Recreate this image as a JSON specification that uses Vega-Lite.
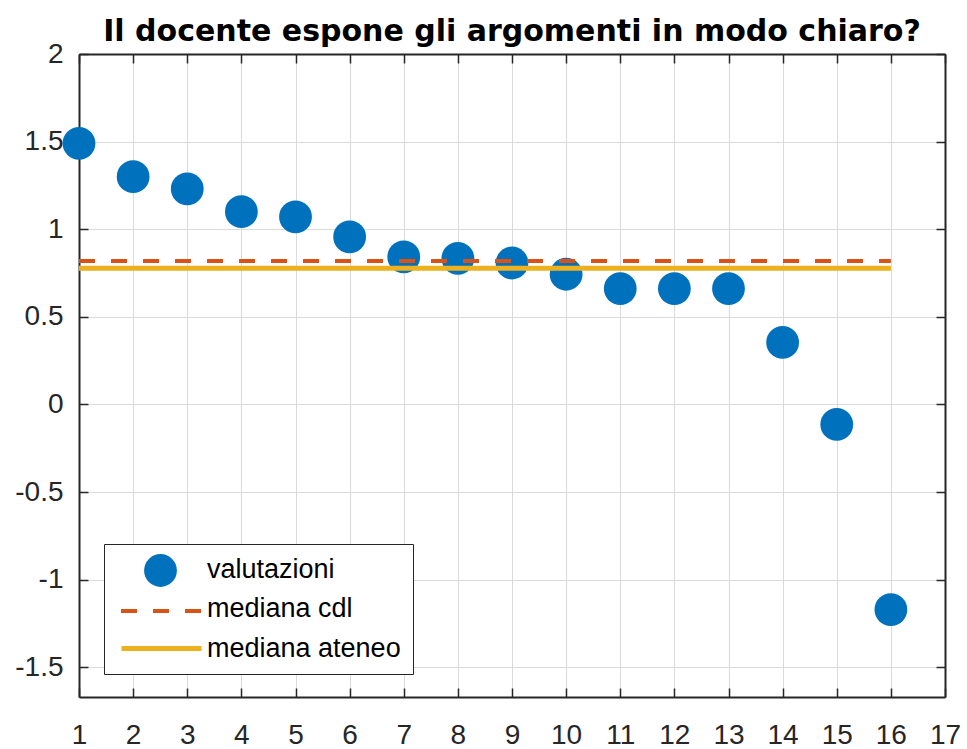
{
  "$schema": "https://vega.github.io/schema/vega-lite/v6.json",
  "width": 866,
  "height": 643,
  "autosize": {"type": "none"},
  "padding": {"left": 79, "top": 54, "right": 22, "bottom": 52},
  "background": "white",
  "title": {"text": "Il docente espone gli argomenti in modo chiaro?", "font": "DejaVu Sans", "fontSize": 30, "fontWeight": "bold", "color": "#000000", "offset": -7, "anchor": "middle"},
  "config": {
    "view": {"stroke": null},
    "axis": {
      "labelFont": "Liberation Sans",
      "labelFontSize": 28,
      "labelColor": "#262626",
      "domainColor": "#262626",
      "domainWidth": 2,
      "tickColor": "#262626",
      "tickWidth": 1.5,
      "tickSize": -9,
      "gridColor": "#dadada",
      "gridWidth": 1,
      "title": null
    },
    "legend": {
      "labelFont": "Liberation Sans",
      "labelFontSize": 27,
      "labelColor": "#000000",
      "labelLimit": 400,
      "title": null,
      "orient": "none"
    }
  },
  "data": {"values": [
    {"x": 1, "y": 1.49, "serie": "valutazioni"},
    {"x": 2, "y": 1.3, "serie": "valutazioni"},
    {"x": 3, "y": 1.23, "serie": "valutazioni"},
    {"x": 4, "y": 1.1, "serie": "valutazioni"},
    {"x": 5, "y": 1.07, "serie": "valutazioni"},
    {"x": 6, "y": 0.956, "serie": "valutazioni"},
    {"x": 7, "y": 0.842, "serie": "valutazioni"},
    {"x": 8, "y": 0.834, "serie": "valutazioni"},
    {"x": 9, "y": 0.807, "serie": "valutazioni"},
    {"x": 10, "y": 0.743, "serie": "valutazioni"},
    {"x": 11, "y": 0.661, "serie": "valutazioni"},
    {"x": 12, "y": 0.661, "serie": "valutazioni"},
    {"x": 13, "y": 0.661, "serie": "valutazioni"},
    {"x": 14, "y": 0.354, "serie": "valutazioni"},
    {"x": 15, "y": -0.114, "serie": "valutazioni"},
    {"x": 16, "y": -1.171, "serie": "valutazioni"},
    {"x": 1, "y": 0.819, "serie": "mediana cdl"},
    {"x": 16, "y": 0.819, "serie": "mediana cdl"},
    {"x": 1, "y": 0.777, "serie": "mediana ateneo"},
    {"x": 16, "y": 0.777, "serie": "mediana ateneo"}
  ]},
  "resolve": {"axis": {"x": "independent", "y": "independent"}},
  "layer": [
    {
      "transform": [{"filter": "datum.serie === 'valutazioni'"}],
      "mark": {"type": "point", "filled": true, "size": 1075, "opacity": 1},
      "encoding": {
        "x": {"field": "x", "type": "quantitative", "scale": {"domain": [1, 17], "nice": false, "zero": false},
              "axis": {"orient": "bottom", "values": [1,2,3,4,5,6,7,8,9,10,11,12,13,14,15,16,17], "grid": true, "labelPadding": 33, "labelFlush": false, "labelOverlap": false}},
        "y": {"field": "y", "type": "quantitative", "scale": {"domain": [-1.67, 2], "nice": false, "zero": false},
              "axis": {"orient": "left", "values": [-1.5, -1, -0.5, 0, 0.5, 1, 1.5, 2], "grid": true, "labelPadding": 25, "labelFlush": false, "labelOverlap": false,
                       "labelExpr": "datum.value < 0 ? '-' + format(-datum.value, '~g') : format(datum.value, '~g')"}},
        "color": {"field": "serie", "type": "nominal",
          "scale": {"domain": ["valutazioni", "mediana cdl", "mediana ateneo"], "range": ["#0072BD", "#D95319", "#EDB120"]},
          "legend": {
            "legendX": 25,
            "legendY": 490,
            "padding": 12,
            "strokeColor": "#262626",
            "fillColor": "white",
            "symbolType": "stroke",
            "symbolSize": 100,
            "symbolOpacity": 0,
            "symbolStrokeWidth": 0,
            "labelOffset": 64,
            "rowPadding": 11.5,
            "zindex": 0
          }},
        "shape": {"field": "serie", "type": "nominal",
          "scale": {"domain": ["valutazioni"], "range": ["circle"]},
          "legend": {
            "legendX": 65,
            "legendY": 500,
            "padding": 0,
            "symbolType": "circle",
            "symbolSize": 1075,
            "symbolFillColor": "#0072BD",
            "symbolStrokeWidth": 0,
            "symbolOpacity": 1,
            "labelExpr": "''",
            "zindex": 1
          }}
      }
    },
    {
      "transform": [{"filter": "datum.serie === 'mediana cdl'"}],
      "mark": {"type": "line", "strokeWidth": 4, "color": "#D95319"},
      "encoding": {
        "x": {"field": "x", "type": "quantitative", "axis": {"orient": "top", "values": [1,2,3,4,5,6,7,8,9,10,11,12,13,14,15,16,17], "labels": false, "grid": false}},
        "y": {"field": "y", "type": "quantitative", "axis": {"orient": "right", "values": [-1.5, -1, -0.5, 0, 0.5, 1, 1.5, 2], "labels": false, "grid": false}},
        "strokeDash": {"field": "serie", "type": "nominal",
          "scale": {"domain": ["mediana cdl"], "range": [[16, 16]]},
          "legend": {
            "legendX": 40,
            "legendY": 515,
            "padding": 0,
            "symbolType": "stroke",
            "symbolSize": 6400,
            "symbolStrokeColor": "#D95319",
            "symbolStrokeWidth": 4,
            "symbolDash": [16, 13],
            "labelExpr": "''",
            "zindex": 1
          }}
      }
    },
    {
      "transform": [{"filter": "datum.serie === 'mediana ateneo'"}],
      "mark": {"type": "line", "strokeWidth": 5, "color": "#EDB120"},
      "encoding": {
        "x": {"field": "x", "type": "quantitative", "axis": null},
        "y": {"field": "y", "type": "quantitative", "axis": null},
        "opacity": {"field": "serie", "type": "nominal",
          "scale": {"domain": ["mediana ateneo"], "range": [1]},
          "legend": {
            "legendX": 40,
            "legendY": 552,
            "padding": 0,
            "symbolType": "stroke",
            "symbolSize": 6400,
            "symbolStrokeColor": "#EDB120",
            "symbolStrokeWidth": 5,
            "labelExpr": "''",
            "zindex": 1
          }}
      }
    }
  ]
}
